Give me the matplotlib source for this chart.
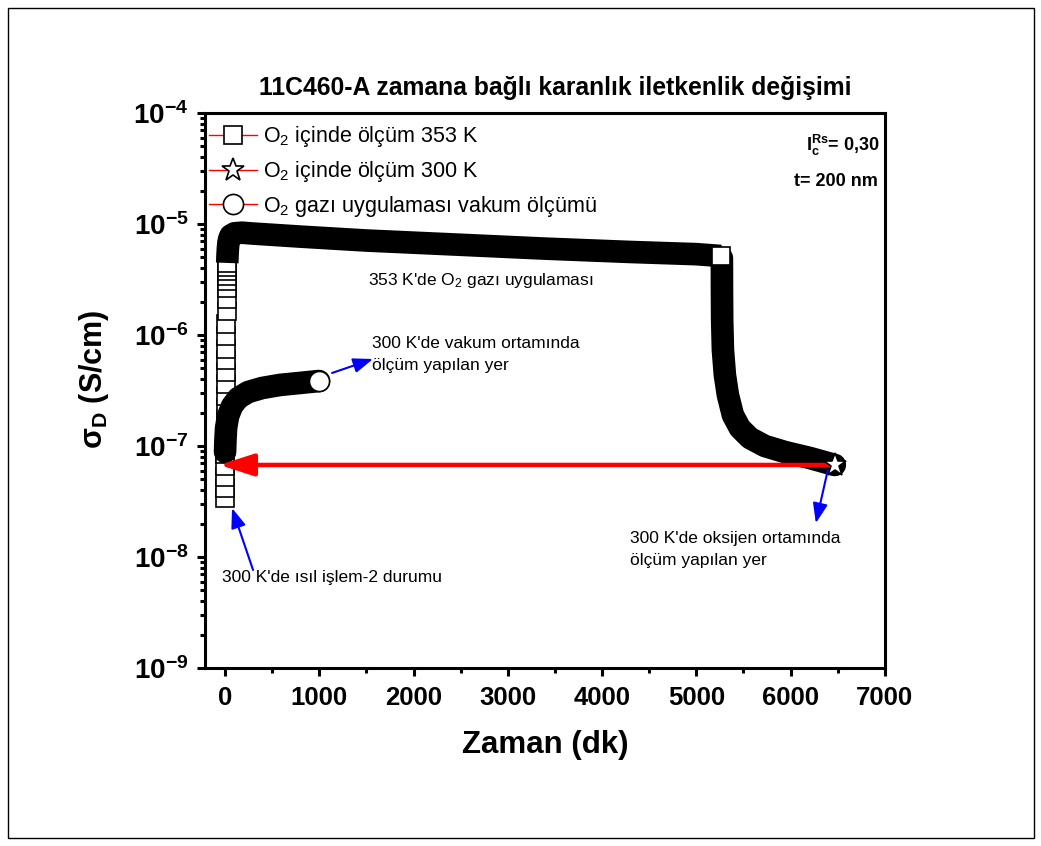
import numpy as np
import matplotlib
matplotlib.use("Agg")
import matplotlib.pyplot as plt
from matplotlib.lines import Line2D
from matplotlib.patches import Rectangle
from matplotlib.ticker import MultipleLocator, LogLocator, NullFormatter, FuncFormatter

plt.rcParams['font.family'] = ['Liberation Sans', 'DejaVu Sans']
plt.rcParams['mathtext.fontset'] = 'custom'
plt.rcParams['mathtext.rm'] = 'Liberation Sans'
plt.rcParams['mathtext.it'] = 'Liberation Sans:italic'
plt.rcParams['mathtext.bf'] = 'Liberation Sans:bold'
plt.rcParams['mathtext.default'] = 'regular'

# O2 icinde 353 K (kare) - baslangictaki ayri noktalar
t1_rise = [0, 1, 2, 3, 4, 5, 6, 7, 8, 9, 10, 11, 12, 13, 14, 15, 16, 17, 18, 19, 20, 21, 22, 23]
s1_rise = [3.40e-8, 4.19e-8, 5.31e-8, 6.61e-8, 8.47e-8, 1.06e-7, 1.36e-7, 1.75e-7,
           2.20e-7, 2.82e-7, 3.62e-7, 4.65e-7, 5.96e-7, 7.48e-7, 9.79e-7, 1.26e-6,
           1.64e-6, 2.11e-6, 2.65e-6, 3.06e-6, 3.40e-6, 3.77e-6, 4.10e-6, 4.46e-6]
# yogun olcum bolgesi
t1_band = [23, 26, 30, 36, 45, 60, 100, 180, 300, 800, 1500, 2500, 3400, 4300, 5000, 5260]
s1_band = [4.46e-6, 5.2e-6, 6.0e-6, 6.8e-6, 7.4e-6, 7.9e-6, 8.25e-6, 8.35e-6, 8.2e-6,
           7.7e-6, 7.1e-6, 6.5e-6, 6.0e-6, 5.6e-6, 5.35e-6, 5.15e-6]

# O2 icinde 300 K (yildiz)
t2 = [5271, 5272, 5274, 5282, 5303, 5335, 5388, 5462, 5568, 5727, 5939, 6204, 6469]
s2 = [4.94e-6, 2.54e-6, 1.37e-6, 7.33e-7, 4.36e-7, 2.88e-7, 1.90e-7, 1.45e-7,
      1.18e-7, 1.00e-7, 8.83e-8, 7.80e-8, 6.75e-8]

# O2 gazi uygulamasi vakum olcumu (daire)
t3 = [0, 4, 11, 32, 74, 138, 244, 392, 583, 795, 997]
s3 = [8.83e-8, 1.13e-7, 1.45e-7, 1.86e-7, 2.29e-7, 2.70e-7, 3.06e-7, 3.33e-7,
      3.55e-7, 3.70e-7, 3.85e-7]

legend_labels = ['O$_2$ içinde ölçüm 353 K',
                 'O$_2$ içinde ölçüm 300 K',
                 'O$_2$ gazı uygulaması vakum ölçümü']

fig = plt.figure(figsize=(10.41, 8.46), dpi=100)
ax = fig.add_axes([0.197, 0.2104, 0.653, 0.656])

band = 16.3
ms_sq, ms_st, ms_ci = 13, 17, 14.5

# kare seri
ax.plot(t1_rise, s1_rise, ls='none', marker='s', ms=ms_sq, mfc='white',
        mec='black', mew=1.2, zorder=3)
ax.plot(t1_band, s1_band, color='black', lw=band, solid_joinstyle='round',
        solid_capstyle='butt', zorder=3.1)

# yildiz seri
ax.plot(t2, s2, color='black', lw=band, solid_joinstyle='round',
        solid_capstyle='round', zorder=4)
ax.plot(t1_band[-1], s1_band[-1], marker='s', ms=ms_sq, mfc='white',
        mec='black', mew=1.2, zorder=4.1)

# daire seri
ax.plot(t3, s3, color='black', lw=band, solid_joinstyle='round',
        solid_capstyle='round', zorder=5)
ax.plot(t3[-1], s3[-1], marker='o', ms=ms_ci, mfc='white', mec='black',
        mew=1.2, zorder=5.1)

# kirmizi ok: 300 K oksijen olcumunden ısıl işlem durumuna
ax.annotate('', xy=(-60, s2[-1]), xytext=(t2[-1], s2[-1]),
            arrowprops=dict(arrowstyle='-|>,head_length=1.4,head_width=0.45',
                            color='red', lw=3.2, mutation_scale=15,
                            shrinkA=0, shrinkB=0), zorder=6)
ax.plot(t2[-1], s2[-1], marker='*', ms=ms_st, mfc='white', mec='black',
        mew=1.2, zorder=6.1)

# aciklamalar
fs_note = 12.5
ax.text(1517, 3.13e-6, "353 K'de O$_2$ gazı uygulaması", fontsize=fs_note,
        ha='left', va='center')
ax.text(1559, 6.67e-7, "300 K'de vakum ortamında\nölçüm yapılan yer",
        fontsize=fs_note, ha='left', va='center', linespacing=1.55)
ax.text(-32, 6.47e-9, "300 K'de ısıl işlem-2 durumu", fontsize=fs_note,
        ha='left', va='center')
ax.text(4295, 1.17e-8, "300 K'de oksijen ortamında\nölçüm yapılan yer",
        fontsize=fs_note, ha='left', va='center', linespacing=1.55)

blue = dict(arrowstyle='-|>,head_length=0.8,head_width=0.3', color='blue',
            lw=1.5, mutation_scale=15, shrinkA=0, shrinkB=0)
ax.annotate('', xy=(74, 2.76e-8), xytext=(297, 7.64e-9), arrowprops=blue, zorder=7)
ax.annotate('', xy=(1570, 6.08e-7), xytext=(1135, 4.55e-7), arrowprops=blue, zorder=7)
ax.annotate('', xy=(6268, 2.02e-8), xytext=(6395, 6.08e-8), arrowprops=blue, zorder=7)

ax.text(0.992, 0.942, r'I$_\mathbf{c}^\mathbf{Rs}$= 0,30', transform=ax.transAxes,
        fontsize=13, fontweight='bold', ha='right', va='center')
ax.text(0.99, 0.877, 't= 200 nm', transform=ax.transAxes,
        fontsize=13, fontweight='bold', ha='right', va='center')

# eksenler
ax.set_yscale('log')
ax.set_xlim(-212, 7000)
ax.set_ylim(1e-9, 1e-4)
ax.xaxis.set_major_locator(MultipleLocator(1000))
ax.xaxis.set_minor_locator(MultipleLocator(500))
ax.yaxis.set_major_locator(LogLocator(base=10, numticks=10))
ax.yaxis.set_minor_locator(LogLocator(base=10, subs=np.arange(2, 10), numticks=20))
ax.yaxis.set_minor_formatter(NullFormatter())
ax.yaxis.set_major_formatter(FuncFormatter(
    lambda v, _: r'$\mathbf{10^{%d}}$' % round(np.log10(v))))

for sp in ax.spines.values():
    sp.set_linewidth(2.2)
ax.tick_params(which='major', direction='out', length=6, width=2.2,
               labelsize=18.5, pad=7)
ax.tick_params(which='minor', direction='out', length=3.5, width=2.2)
ax.tick_params(axis='y', which='major', labelsize=20, pad=6)
for lab in ax.get_xticklabels():
    lab.set_fontweight('bold')

ax.set_xlabel('Zaman (dk)', fontsize=22.5, fontweight='bold', labelpad=14)
ax.set_ylabel('σ$_\\mathbf{D}$ (S/cm)', fontsize=22, fontweight='bold')
ax.yaxis.set_label_coords(-0.138, 0.52)
fig.text(555 / 1041, 1 - 88 / 846, '11C460-A zamana bağlı karanlık iletkenlik değişimi',
         fontsize=17.8, fontweight='bold', ha='center', va='center')

handles = [Line2D([], [], color='red', lw=1, marker=m, ms=s, mfc='white',
                  mec='black', mew=1.2)
           for m, s in [('s', ms_sq), ('*', ms_st), ('o', ms_ci)]]
ax.legend(handles, legend_labels, loc='upper left', bbox_to_anchor=(-0.003, 0.991),
          frameon=False, fontsize=15.5, handlelength=2.2, handletextpad=0.3,
          labelspacing=0.45, borderaxespad=0.2, borderpad=0.1)

fig.add_artist(Rectangle((0.008, 0.01), 0.985, 0.98, transform=fig.transFigure,
                         fill=False, edgecolor='black', lw=1))

fig.savefig('out.png', dpi=100)
